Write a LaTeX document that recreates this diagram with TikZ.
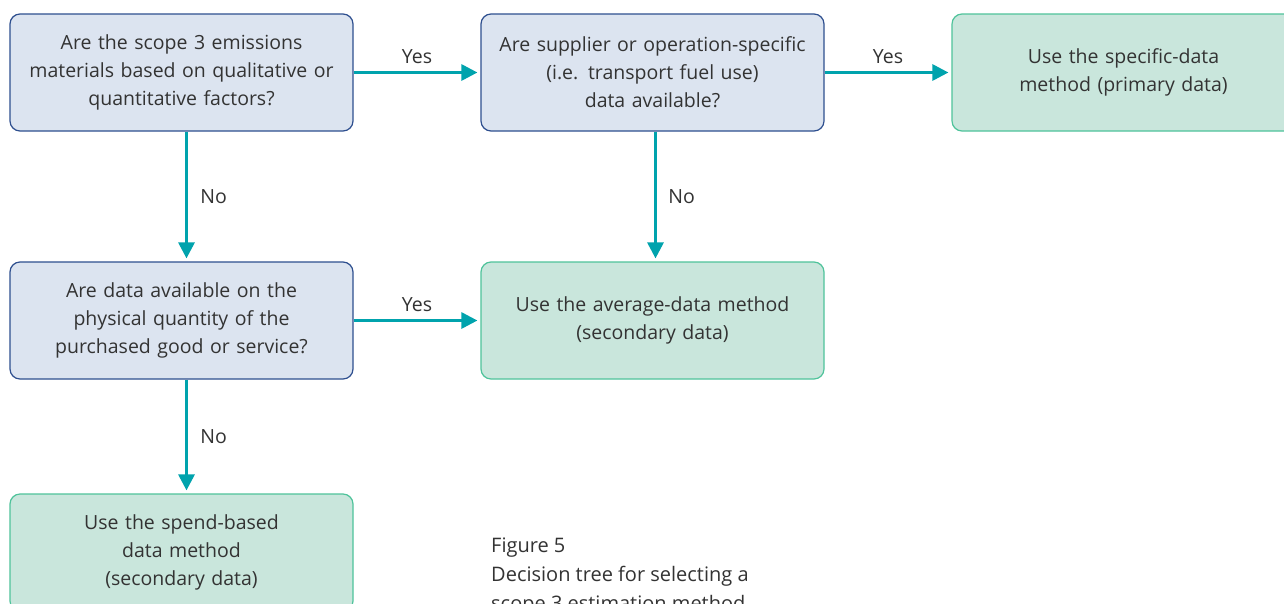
\documentclass[tikz,border=0pt]{standalone}
\usepackage{fontspec}
\setmainfont{Open Sans}
\usetikzlibrary{arrows.meta}
\definecolor{qfill}{HTML}{DCE4F0}
\definecolor{qdraw}{HTML}{2E4F8F}
\definecolor{afill}{HTML}{C9E6DC}
\definecolor{adraw}{HTML}{4FC39B}
\definecolor{flow}{HTML}{00A3AD}
\definecolor{txt}{HTML}{333333}
\tikzset{
  box/.style={rounded corners=10pt, line width=1.2pt, minimum width=343pt,
    minimum height=117pt, text width=335pt, align=center, inner sep=0pt,
    font=\fontsize{19.5}{28}\selectfont, text=txt},
  question/.style={box, fill=qfill, draw=qdraw},
  answer/.style={box, fill=afill, draw=adraw},
  flowarrow/.style={draw=flow, line width=3pt,
    -{Triangle[length=16pt,width=16pt]}, shorten >=3pt},
  lbl/.style={font=\fontsize{19.5}{22}\selectfont, text=txt}
}
\begin{document}
\begin{tikzpicture}[x=1pt,y=-1pt]
\useasboundingbox (0,0) rectangle (1284,603);
\clip (0,0) rectangle (1284,603);
\fill[white] (0,0) rectangle (1284,603);

\node[question] (q1) at (181.5,72.5) {Are the scope 3 emissions\\materials based on qualitative or\\quantitative factors?};
\node[question] (q2) at (652.5,72.5) {Are supplier or operation-specific\\(i.e. transport fuel use)\\data available?};
\node[answer]   (a1) at (1123.5,72.5) {Use the specific-data\\method (primary data)};
\node[question] (q3) at (181.5,320.5) {Are data available on the\\physical quantity of the\\purchased good or service?};
\node[answer]   (a2) at (652.5,320.5) {Use the average-data method\\(secondary data)};
\node[answer]   (a3) at (181.5,552.5) {Use the spend-based\\data method\\(secondary data)};

\draw[flowarrow] (q1) -- node[lbl, above=4pt] {Yes} (q2);
\draw[flowarrow] (q2) -- node[lbl, above=4pt] {Yes} (a1);
\draw[flowarrow] (q3) -- node[lbl, above=4pt] {Yes} (a2);
\draw[flowarrow] ([xshift=5pt]q1.south) -- node[lbl, right=9pt] {No} ([xshift=5pt]q3.north);
\draw[flowarrow] ([xshift=3pt]q2.south) -- node[lbl, right=8pt] {No} ([xshift=3pt]a2.north);
\draw[flowarrow] ([xshift=5pt]q3.south) -- node[lbl, right=9pt] {No} ([xshift=5pt]a3.north);

\node[anchor=north west, align=left, inner sep=0pt, text=txt,
  font=\fontsize{20}{29}\selectfont] (cap) at (491,538)
  {Figure 5\\Decision tree for selecting a\\scope 3 estimation method};
\end{tikzpicture}
\end{document}
